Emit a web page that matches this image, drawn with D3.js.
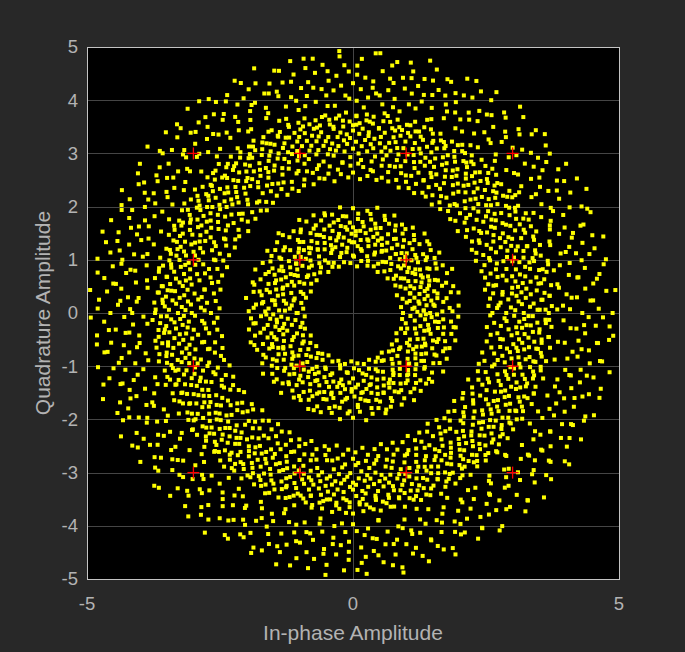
<!DOCTYPE html>
<html>
<head>
<meta charset="utf-8">
<script src="https://cdn.jsdelivr.net/npm/d3@7"></script>
<style>
  html, body { margin: 0; padding: 0; background: #282828; }
  svg { display: block; }
</style>
</head>
<body>
<div id="chart"></div>
<script>
// tick values
const xTicks = [-5, 0, 5];
const yTicks = [-5, -4, -3, -2, -1, 0, 1, 2, 3, 4, 5];

// 16-QAM reference levels (red crosses)
const refLevels = [-3, -1, 1, 3];

// received symbols, read as [angle in degrees, radius] pairs, one list per ring
const innerRing = [
  0,1.45,1,1.21,1,1.68,2,1.33,3,1.82,4,1.12,5,1.54,6,1.39,7,1.71,8,1.26,9,1.49,
  10,1.61,11,1.03,11,1.37,12,1.88,13,1.44,14,1.19,15,1.58,16,1.30,17,1.75,18,1.47,19,1.14,
  20,1.52,21,1.36,22,1.66,22,1.24,23,1.92,24,1.41,25,1.09,26,1.57,27,1.32,28,1.78,29,1.46,
  30,1.20,31,1.63,32,1.38,33,1.50,34,1.85,34,1.16,35,1.43,36,1.69,37,1.28,38,1.55,39,1.35,
  40,1.72,41,1.07,42,1.48,43,1.60,43,1.31,44,1.94,45,1.40,46,1.22,47,1.64,48,1.51,49,1.34,
  50,1.79,51,1.45,52,1.17,53,1.56,54,1.37,55,1.67,56,1.25,57,1.53,58,1.86,59,1.42,
  60,1.11,61,1.59,62,1.33,63,1.74,64,1.47,65,1.27,66,1.62,67,1.39,68,1.81,69,1.50,
  70,1.21,71,1.44,72,1.68,72,1.35,73,1.56,74,1.02,75,1.48,76,1.73,77,1.29,78,1.60,79,1.41,
  80,1.89,81,1.52,82,1.18,83,1.64,84,1.38,85,1.55,86,1.26,87,1.77,88,1.46,89,1.33,
  90,1.61,90,1.08,91,1.49,92,1.70,93,1.36,94,1.57,95,1.23,96,1.83,97,1.43,98,1.65,99,1.30,
  100,1.51,101,1.15,102,1.74,103,1.40,104,1.59,105,1.28,106,1.91,107,1.47,108,1.34,109,1.66,
  110,1.20,111,1.53,112,1.42,113,1.79,114,1.31,115,1.62,116,1.05,117,1.48,118,1.70,119,1.37,
  120,1.56,121,1.24,122,1.85,123,1.45,124,1.13,125,1.63,126,1.39,127,1.72,128,1.50,129,1.27,
  130,1.58,131,1.35,132,1.97,133,1.44,134,1.19,135,1.67,136,1.52,137,1.30,138,1.76,139,1.41,
  140,1.10,141,1.55,142,1.33,143,1.69,144,1.46,145,1.87,146,1.25,147,1.60,148,1.38,149,1.53,
  150,1.16,151,1.73,152,1.43,153,1.29,154,1.64,155,1.49,156,1.80,157,1.34,158,1.06,159,1.57,
  160,1.40,161,1.68,162,1.22,163,1.51,164,1.93,165,1.36,166,1.61,167,1.45,168,1.14,169,1.75,
  170,1.32,171,1.54,172,1.27,173,1.70,174,1.47,175,1.83,176,1.19,177,1.59,178,1.39,179,1.65,
  180,1.04,181,1.50,182,1.73,183,1.35,184,1.56,185,1.23,186,1.88,187,1.44,188,1.62,189,1.31,
  190,1.48,191,1.17,192,1.78,193,1.42,194,1.58,195,1.28,196,1.67,197,1.37,198,1.95,199,1.52,
  200,1.12,201,1.63,202,1.40,203,1.71,204,1.25,205,1.55,206,1.46,207,1.84,208,1.33,209,1.60,
  210,1.07,211,1.49,212,1.69,213,1.36,214,1.57,215,1.21,216,1.76,217,1.43,218,1.30,219,1.64,
  220,1.51,221,1.90,222,1.18,223,1.45,224,1.66,225,1.34,226,1.59,227,1.26,228,1.80,229,1.41,
  230,1.54,231,1.09,232,1.72,233,1.38,234,1.61,235,1.47,236,1.22,237,1.86,238,1.35,239,1.56,
  240,1.29,241,1.67,242,1.43,243,1.15,244,1.74,245,1.50,246,1.32,247,1.62,248,1.97,249,1.39,
  250,1.58,251,1.20,252,1.46,253,1.70,254,1.34,255,1.55,256,1.01,257,1.64,258,1.42,259,1.79,
  260,1.27,261,1.52,262,1.37,263,1.68,264,1.44,265,1.13,266,1.60,267,1.31,268,1.85,269,1.48,
  270,1.23,271,1.57,272,1.40,273,1.73,274,1.35,275,1.62,276,1.08,277,1.50,278,1.66,279,1.29,
  280,1.45,281,1.82,282,1.19,283,1.54,284,1.38,285,1.69,286,1.26,287,1.59,288,1.47,289,1.92,
  290,1.33,291,1.61,292,1.14,293,1.48,294,1.75,295,1.36,296,1.56,297,1.24,298,1.67,299,1.43,
  300,1.52,301,1.05,302,1.71,303,1.39,304,1.60,305,1.30,306,1.84,307,1.46,308,1.21,309,1.63,
  310,1.37,311,1.55,312,1.77,313,1.28,314,1.49,315,1.65,316,1.16,317,1.42,318,1.58,319,1.89,
  320,1.34,321,1.53,322,1.10,323,1.69,324,1.45,325,1.26,326,1.61,327,1.40,328,1.78,329,1.50,
  330,1.22,331,1.57,332,1.35,333,1.72,334,1.44,335,1.18,336,1.63,337,1.47,338,1.31,339,1.86,
  340,1.41,341,1.59,342,1.25,343,1.68,344,1.06,345,1.51,346,1.38,347,1.74,348,1.46,349,1.29,
  350,1.62,351,1.43,352,1.91,353,1.17,354,1.55,355,1.36,356,1.70,357,1.48,358,1.27,359,1.58
];

// inner ring, second pass: the looser points on both edges of the ring
const innerEdges = [
  0,0.94,1,1.87,2,1.33,4,1.99,5,1.16,6,1.52,7,0.91,9,1.78,10,1.25,11,2.02,
  12,1.09,13,1.63,15,1.95,16,0.97,17,1.41,18,1.84,19,1.13,21,1.71,22,0.89,23,1.56,
  24,2.04,25,1.19,27,1.47,28,1.91,29,1.02,30,1.66,31,1.81,33,0.95,34,1.35,35,1.98,
  36,1.11,37,1.74,39,1.88,40,1.00,41,1.58,42,1.93,43,1.23,45,0.92,46,1.80,47,1.44,
  48,2.01,49,1.07,51,1.69,52,1.86,53,0.98,54,1.37,55,1.96,57,1.14,58,1.76,59,0.90,
  60,1.61,61,1.90,63,1.04,64,1.83,65,1.29,66,0.96,67,1.99,69,1.50,70,1.17,71,1.85,
  72,1.92,73,0.93,75,1.65,76,1.10,77,2.03,78,1.39,79,1.79,81,0.99,82,1.94,83,1.21,
  84,1.72,85,0.88,87,1.87,88,1.54,89,1.06,90,1.97,91,1.33,93,0.94,94,1.82,95,1.62,
  96,1.15,97,2.00,99,1.77,100,0.97,101,1.45,102,1.89,103,1.08,105,1.70,106,1.95,107,0.91,
  108,1.26,109,1.84,111,1.01,112,1.98,113,1.59,114,0.95,115,1.75,117,1.93,118,1.12,119,1.36,
  120,2.02,121,0.90,123,1.81,124,1.48,125,1.05,126,1.90,127,1.67,129,0.98,130,1.86,131,1.18,
  132,1.53,133,2.05,135,1.03,136,1.78,137,1.95,138,0.92,139,1.42,141,1.88,142,1.10,143,1.73,
  144,1.99,145,0.96,147,1.31,148,1.83,149,1.07,150,1.60,151,1.94,153,0.89,154,1.76,155,1.22,
  156,2.01,157,1.57,159,1.00,160,1.85,161,1.40,162,0.93,163,1.97,165,1.68,166,1.13,167,1.80,
  168,1.91,169,0.99,171,1.49,172,2.03,173,1.16,174,1.72,175,0.94,177,1.87,178,1.28,179,1.96,
  180,1.06,181,1.63,183,1.92,184,0.91,185,1.44,186,1.84,187,1.09,189,1.98,190,1.70,191,0.97,
  192,1.35,193,1.89,195,1.02,196,2.00,197,1.55,198,0.95,199,1.79,201,1.93,202,1.20,203,1.64,
  204,1.03,205,1.86,207,1.47,208,0.90,209,1.95,210,1.74,211,1.11,213,1.82,214,2.04,215,0.98,
  216,1.38,217,1.90,219,1.08,220,1.69,221,1.97,222,0.93,223,1.52,225,1.87,226,1.14,227,1.78,
  228,2.02,229,1.00,231,1.61,232,1.85,233,0.96,234,1.30,235,1.94,237,1.05,238,1.75,239,1.91,
  240,0.92,241,1.46,243,1.83,244,1.17,245,1.99,246,1.66,247,0.99,249,1.88,250,1.24,251,1.71,
  252,1.96,253,0.94,255,1.58,256,1.84,257,1.07,258,1.92,259,1.34,261,0.97,262,1.80,263,2.01,
  264,1.12,265,1.63,267,1.89,268,0.91,269,1.43,270,1.97,271,1.04,273,1.77,274,1.86,275,0.95,
  276,1.51,277,2.03,279,1.15,280,1.68,281,1.93,282,0.98,283,1.39,285,1.85,286,1.09,287,1.74,
  288,1.98,289,0.93,291,1.60,292,1.90,293,1.19,294,1.81,295,1.01,297,1.48,298,1.95,299,0.96,
  300,1.72,301,1.87,303,1.06,304,1.36,305,2.00,306,0.92,307,1.65,309,1.83,310,1.13,311,1.94,
  312,1.55,313,0.99,315,1.79,316,1.91,317,1.03,318,1.42,319,1.97,321,0.94,322,1.70,323,1.86,
  324,1.10,325,1.57,327,2.02,328,0.97,329,1.32,330,1.88,331,1.16,333,1.76,334,1.96,335,0.90,
  336,1.49,337,1.84,339,1.05,340,1.93,341,1.67,342,0.95,343,1.81,345,1.99,346,1.20,347,1.45,
  348,1.89,349,1.01,351,1.73,352,1.95,353,0.93,354,1.62,355,1.85,357,1.08,358,1.98,359,1.37
];

const middleRing = [
  0,3.21,0,2.88,1,3.47,1,3.05,1,3.62,2,3.33,2,2.97,3,3.18,3,3.40,3,2.74,
  4,3.12,4,3.55,5,3.26,5,2.93,5,3.71,6,3.09,6,3.36,7,3.01,7,3.19,7,3.48,
  8,2.84,8,3.29,9,3.58,9,3.14,9,3.03,10,3.39,10,3.24,11,2.69,11,3.51,11,3.11,
  12,3.31,12,2.95,13,3.66,13,3.22,13,3.07,14,3.43,14,2.90,15,3.35,15,3.17,15,3.79,
  16,3.45,16,3.00,17,3.27,17,2.81,17,3.53,18,3.15,18,3.37,19,2.99,19,3.62,19,3.20,
  20,3.08,20,3.41,21,2.76,21,3.28,21,3.50,22,3.13,22,3.34,23,2.92,23,3.68,23,3.23,
  24,3.04,24,3.46,25,3.30,25,2.86,25,3.16,26,3.57,26,3.25,27,2.96,27,3.42,27,3.10,
  28,3.74,28,3.19,29,3.02,29,3.38,29,2.72,30,3.32,30,3.54,31,3.11,31,2.94,31,3.28,
  32,3.47,32,3.06,33,3.63,33,3.20,33,2.83,34,3.36,34,3.14,35,3.51,35,2.99,35,3.25,
  36,3.70,36,3.09,37,3.40,37,3.18,37,2.91,38,3.29,38,3.58,39,3.03,39,3.44,39,3.22,
  40,2.78,40,3.33,41,3.12,41,3.49,41,3.00,42,3.26,42,3.65,43,3.15,43,2.89,43,3.39,
  44,3.52,44,3.07,45,3.31,45,3.21,45,2.97,46,3.45,46,3.77,47,3.10,47,3.35,47,2.80,
  48,3.24,48,3.56,49,3.02,49,3.41,49,3.17,50,2.93,50,3.30,51,3.60,51,3.13,51,3.37,
  52,3.05,52,3.48,53,3.23,53,2.75,53,3.54,54,3.16,54,3.34,55,2.98,55,3.67,55,3.27,
  56,3.09,56,3.43,57,3.20,57,2.87,57,3.50,58,3.32,58,3.72,59,3.04,59,3.25,59,3.46,
  60,2.95,60,3.38,61,3.14,61,3.59,61,3.01,62,3.29,62,2.82,63,3.47,63,3.19,63,3.64,
  64,3.08,64,3.36,65,2.91,65,3.53,65,3.22,66,3.42,66,3.11,67,3.75,67,3.26,67,2.96,
  68,3.33,68,3.06,69,3.55,69,3.18,69,2.77,70,3.40,70,3.28,71,3.02,71,3.61,71,3.15,
  72,3.49,72,2.90,73,3.24,73,3.37,73,3.69,74,3.10,74,2.99,75,3.45,75,3.21,75,3.56,
  76,3.31,76,2.85,77,3.13,77,3.52,77,3.39,78,3.03,78,3.27,79,3.66,79,3.17,79,2.94,
  80,3.44,80,3.08,81,3.35,81,3.80,81,3.23,82,2.97,82,3.50,83,3.12,83,3.30,83,2.71,
  84,3.58,84,3.19,85,3.41,85,3.05,85,3.34,86,3.63,86,3.26,87,2.88,87,3.47,87,3.14,
  88,3.37,88,3.00,89,3.54,89,3.22,89,3.71,90,3.09,90,3.43,91,3.29,91,2.93,91,3.60,
  92,3.18,92,3.36,93,3.04,93,3.51,93,3.25,94,2.83,94,3.40,95,3.15,95,3.67,95,3.32,
  96,3.07,96,3.48,97,3.21,97,2.98,97,3.57,98,3.34,98,3.11,99,3.73,99,3.27,99,3.02,
  100,3.45,100,3.19,101,2.90,101,3.38,101,3.55,102,3.13,102,3.30,103,3.64,103,3.06,103,3.42,
  104,3.24,104,2.79,105,3.50,105,3.16,105,3.35,106,3.01,106,3.59,107,3.28,107,3.10,107,3.46,
  108,2.95,108,3.39,109,3.22,109,3.70,109,3.12,110,3.33,110,3.05,111,3.53,111,3.20,111,2.86,
  112,3.44,112,3.26,113,3.62,113,3.08,113,3.37,114,3.17,114,2.97,115,3.49,115,3.31,115,3.76,
  116,3.03,116,3.23,117,3.41,117,2.92,117,3.58,118,3.14,118,3.35,119,3.06,119,3.52,119,3.27,
  120,2.81,120,3.43,121,3.18,121,3.65,121,3.09,122,3.32,122,3.00,123,3.48,123,3.21,123,3.56,
  124,3.11,124,2.89,125,3.38,125,3.25,125,3.69,126,3.04,126,3.45,127,3.15,127,3.33,127,2.96,
  128,3.57,128,3.22,129,3.07,129,3.40,129,3.19,130,2.74,130,3.51,131,3.29,131,3.12,131,3.63,
  132,3.36,132,3.02,133,3.47,133,3.24,133,2.91,134,3.16,134,3.54,135,3.34,135,3.08,135,3.72,
  136,3.26,136,2.99,137,3.42,137,3.13,137,3.30,138,3.60,138,3.05,139,3.20,139,2.84,139,3.49,
  140,3.37,140,3.10,141,3.55,141,3.23,141,2.94,142,3.44,142,3.17,143,3.66,143,3.01,143,3.31,
  144,3.14,144,3.39,145,2.87,145,3.52,145,3.27,146,3.06,146,3.46,147,3.19,147,3.78,147,3.35,
  148,2.98,148,3.24,149,3.58,149,3.11,149,3.41,150,3.29,150,2.80,151,3.50,151,3.15,151,3.33,
  152,3.03,152,3.62,153,3.22,153,3.44,153,2.93,154,3.36,154,3.09,155,3.53,155,3.18,155,3.70,
  156,3.25,156,2.90,157,3.43,157,3.12,157,3.30,158,3.57,158,3.04,159,3.21,159,3.47,159,2.77,
  160,3.38,160,3.16,161,3.64,161,3.07,161,3.32,162,2.96,162,3.49,163,3.23,163,3.41,163,3.10,
  164,3.59,164,3.28,165,2.88,165,3.35,165,3.17,166,3.52,166,3.02,167,3.45,167,3.26,167,3.74,
  168,3.13,168,2.95,169,3.39,169,3.20,169,3.56,170,3.08,170,3.31,171,2.83,171,3.48,171,3.24,
  172,3.61,172,3.14,173,3.37,173,3.00,173,3.44,174,3.19,174,3.67,175,3.27,175,2.92,175,3.53,
  176,3.11,176,3.40,177,3.05,177,3.33,177,3.58,178,3.22,178,2.86,179,3.46,179,3.15,179,3.71,
  180,3.29,180,3.03,181,3.50,181,3.18,181,2.97,182,3.42,182,3.25,183,3.63,183,3.09,183,3.36,
  184,2.80,184,3.21,185,3.55,185,3.12,185,3.34,186,3.01,186,3.47,187,3.28,187,3.68,187,3.16,
  188,2.94,188,3.39,189,3.23,189,3.52,189,3.06,190,3.32,190,3.75,191,3.13,191,2.89,191,3.44,
  192,3.20,192,3.58,193,3.04,193,3.30,193,3.49,194,3.17,194,2.78,195,3.41,195,3.26,195,3.62,
  196,3.10,196,3.35,197,2.99,197,3.54,197,3.22,198,3.45,198,3.07,199,3.31,199,3.69,199,3.14,
  200,2.91,200,3.38,201,3.19,201,3.51,201,3.02,202,3.27,202,3.60,203,3.11,203,2.85,203,3.43,
  204,3.33,204,3.15,205,3.56,205,3.05,205,3.24,206,3.47,206,2.96,207,3.36,207,3.18,207,3.66,
  208,3.08,208,3.29,209,3.52,209,3.21,209,2.82,210,3.40,210,3.12,211,3.63,211,3.26,211,3.00,
  212,3.34,212,3.16,213,3.48,213,2.93,213,3.23,214,3.57,214,3.09,215,3.30,215,3.44,215,3.03,
  216,3.19,216,3.72,217,2.88,217,3.37,217,3.14,218,3.50,218,3.25,219,3.06,219,3.42,219,3.20,
  220,2.98,220,3.61,221,3.32,221,3.11,221,3.46,222,3.23,222,2.79,223,3.55,223,3.17,223,3.35,
  224,3.04,224,3.43,225,3.28,225,3.67,225,3.13,226,2.92,226,3.39,227,3.21,227,3.53,227,3.07,
  228,3.31,228,3.16,229,3.48,229,2.87,229,3.26,230,3.60,230,3.10,231,3.36,231,3.01,231,3.44,
  232,3.18,232,3.70,233,3.25,233,2.95,233,3.51,234,3.12,234,3.33,235,3.05,235,3.58,235,3.22,
  236,3.40,236,2.84,237,3.29,237,3.15,237,3.47,238,3.64,238,3.08,239,3.20,239,3.37,239,2.99,
  240,3.54,240,3.26,241,3.11,241,3.45,241,3.03,242,3.32,242,2.90,243,3.62,243,3.19,243,3.41,
  244,3.14,244,3.50,245,2.97,245,3.28,245,3.73,246,3.23,246,3.06,247,3.44,247,3.17,247,2.83,
  248,3.35,248,3.57,249,3.09,249,3.30,249,3.48,250,3.21,250,2.94,251,3.66,251,3.13,251,3.38,
  252,3.02,252,3.46,253,3.27,253,3.55,253,3.16,254,2.88,254,3.34,255,3.20,255,3.61,255,3.07,
  256,3.42,256,3.24,257,2.99,257,3.52,257,3.31,258,3.12,258,3.69,259,3.36,259,3.05,259,3.22,
  260,3.47,260,2.81,261,3.29,261,3.15,261,3.58,262,3.39,262,3.10,263,3.53,263,3.25,263,2.96,
  264,3.18,264,3.43,265,3.63,265,3.04,265,3.33,266,3.21,266,2.91,267,3.49,267,3.14,267,3.37,
  268,3.76,268,3.08,269,3.27,269,3.56,269,3.01,270,3.32,270,3.19,271,2.86,271,3.44,271,3.23,
  272,3.60,272,3.11,273,3.35,273,3.50,273,2.98,274,3.16,274,3.40,275,3.06,275,3.67,275,3.28,
  276,3.13,276,2.93,277,3.46,277,3.24,277,3.54,278,3.03,278,3.38,279,3.20,279,2.80,279,3.59,
  280,3.31,280,3.09,281,3.48,281,3.17,281,3.71,282,2.95,282,3.26,283,3.42,283,3.12,283,3.34,
  284,3.57,284,3.00,285,3.22,285,3.45,285,2.89,286,3.36,286,3.15,287,3.64,287,3.07,287,3.29,
  288,3.51,288,3.18,289,2.97,289,3.40,289,3.25,290,3.10,290,3.55,291,3.33,291,2.84,291,3.47,
  292,3.21,292,3.68,293,3.04,293,3.37,293,3.14,294,3.43,294,2.92,295,3.27,295,3.58,295,3.19,
  296,3.08,296,3.35,297,3.50,297,3.02,297,3.24,298,2.87,298,3.41,299,3.16,299,3.62,299,3.30,
  300,3.11,300,3.46,301,2.99,301,3.23,301,3.53,302,3.34,302,3.06,303,3.70,303,3.18,303,3.39,
  304,3.01,304,3.28,305,3.49,305,2.90,305,3.21,306,3.57,306,3.13,307,3.36,307,3.05,307,3.44,
  308,3.26,308,2.82,309,3.61,309,3.17,309,3.32,310,3.09,310,3.48,311,3.24,311,2.96,311,3.54,
  312,3.37,312,3.12,313,3.65,313,3.03,313,3.29,314,3.20,314,3.42,315,2.93,315,3.52,315,3.15,
  316,3.31,316,3.74,317,3.08,317,3.38,317,2.85,318,3.25,318,3.55,319,3.14,319,3.45,319,3.00,
  320,3.33,320,3.19,321,3.62,321,2.94,321,3.40,322,3.10,322,3.27,323,3.50,323,3.04,323,3.36,
  324,3.22,324,2.79,325,3.59,325,3.16,325,3.43,326,3.07,326,3.30,327,3.67,327,3.23,327,2.98,
  328,3.47,328,3.12,329,3.35,329,3.18,329,3.56,330,2.90,330,3.41,331,3.26,331,3.05,331,3.63,
  332,3.32,332,3.15,333,3.49,333,2.87,333,3.21,334,3.58,334,3.09,335,3.38,335,3.28,335,3.02,
  336,3.44,336,3.72,337,3.17,337,2.95,337,3.34,338,3.53,338,3.11,339,3.24,339,3.46,339,3.06,
  340,2.83,340,3.39,341,3.20,341,3.60,341,3.13,342,3.31,342,3.00,343,3.48,343,3.27,343,3.69,
  344,3.10,344,2.92,345,3.36,345,3.22,345,3.55,346,3.04,346,3.42,347,3.18,347,3.64,347,2.97,
  348,3.29,348,3.14,349,3.51,349,3.07,349,3.37,350,3.23,350,2.86,351,3.45,351,3.16,351,3.59,
  352,3.01,352,3.33,353,3.25,353,3.70,353,3.11,354,2.94,354,3.40,355,3.19,355,3.52,355,3.08,
  356,3.35,356,3.27,357,2.89,357,3.47,357,3.13,358,3.62,358,3.22,359,3.03,359,3.38,359,3.30
];

// middle ring, second pass: the looser points on both edges of the ring
const middleEdges = [
  0,2.62,0,3.68,1,3.51,2,2.71,2,3.74,3,2.55,4,3.57,4,2.78,5,3.71,6,2.59,6,3.62,7,2.83,
  8,3.76,8,2.66,9,3.53,10,2.52,10,3.65,11,2.74,12,3.72,12,2.60,13,3.59,14,2.80,14,3.78,15,2.57,
  16,3.54,16,2.69,17,3.69,18,2.54,18,3.61,19,2.86,20,3.74,20,2.63,21,3.51,22,2.76,22,3.67,23,2.51,
  24,3.77,24,2.68,25,3.57,26,2.58,26,3.72,27,2.82,28,3.55,28,2.53,29,3.66,30,2.73,30,3.75,31,2.61,
  32,3.60,32,2.84,33,3.70,34,2.56,34,3.54,35,2.77,36,3.77,36,2.65,37,3.63,38,2.50,38,3.73,39,2.70,
  40,3.52,40,2.87,41,3.69,42,2.59,42,3.58,43,2.75,44,3.74,44,2.54,45,3.56,46,2.81,46,3.66,47,2.62,
  48,3.72,48,2.72,49,3.50,50,2.55,50,3.76,51,2.79,52,3.61,52,2.64,53,3.71,54,2.52,54,3.53,55,2.85,
  56,3.67,56,2.67,57,3.77,58,2.58,58,3.59,59,2.76,60,3.72,60,2.61,61,3.54,62,2.83,62,3.64,63,2.53,
  64,3.75,64,2.70,65,3.57,66,2.57,66,3.69,67,2.80,68,3.51,68,2.66,69,3.74,70,2.51,70,3.63,71,2.78,
  72,3.78,72,2.63,73,3.54,74,2.86,74,3.68,75,2.56,76,3.60,76,2.73,77,3.73,78,2.60,78,3.55,79,2.82,
  80,3.76,80,2.54,81,3.65,82,2.69,82,3.51,83,2.87,84,3.71,84,2.59,85,3.61,86,2.75,86,3.74,87,2.52,
  88,3.57,88,2.81,89,3.70,90,2.64,90,3.53,91,2.77,92,3.77,92,2.55,93,3.62,94,2.84,94,3.72,95,2.62,
  96,3.52,96,2.71,97,3.66,98,2.50,98,3.75,99,2.79,100,3.58,100,2.66,101,3.69,102,2.58,102,3.54,103,2.85,
  104,3.77,104,2.61,105,3.63,106,2.74,106,3.72,107,2.53,108,3.56,108,2.80,109,3.74,110,2.67,110,3.51,111,2.57,
  112,3.67,112,2.83,113,3.60,114,2.51,114,3.76,115,2.72,116,3.54,116,2.60,117,3.71,118,2.78,118,3.63,119,2.54,
  120,3.74,120,2.69,121,3.57,122,2.86,122,3.69,123,2.63,124,3.51,124,2.76,125,3.78,126,2.56,126,3.61,127,2.82,
  128,3.73,128,2.65,129,3.55,130,2.52,130,3.66,131,2.75,132,3.77,132,2.59,133,3.53,134,2.84,134,3.72,135,2.68,
  136,3.61,136,2.55,137,3.74,138,2.79,138,3.57,139,2.62,140,3.69,140,2.73,141,3.50,142,2.50,142,3.77,143,2.81,
  144,3.59,144,2.66,145,3.72,146,2.58,146,3.54,147,2.85,148,3.66,148,2.61,149,3.75,150,2.77,150,3.52,151,2.54,
  152,3.70,152,2.70,153,3.62,154,2.87,154,3.74,155,2.57,156,3.56,156,2.74,157,3.76,158,2.63,158,3.64,159,2.80,
  160,3.51,160,2.52,161,3.71,162,2.68,162,3.60,163,2.83,164,3.77,164,2.56,165,3.54,166,2.76,166,3.68,167,2.60,
  168,3.73,168,2.71,169,3.57,170,2.53,170,3.78,171,2.82,172,3.63,172,2.64,173,3.51,174,2.86,174,3.69,175,2.59,
  176,3.59,176,2.75,177,3.74,178,2.51,178,3.54,179,2.79,180,3.72,180,2.67,181,3.61,182,2.55,182,3.77,183,2.84,
  184,3.52,184,2.62,185,3.67,186,2.78,186,3.57,187,2.57,188,3.75,188,2.73,189,3.63,190,2.50,190,3.53,191,2.85,
  192,3.72,192,2.65,193,3.60,194,2.81,194,3.76,195,2.54,196,3.55,196,2.70,197,3.70,198,2.61,198,3.51,199,2.86,
  200,3.66,200,2.58,201,3.77,202,2.74,202,3.58,203,2.52,204,3.71,204,2.83,205,3.54,206,2.66,206,3.74,207,2.77,
  208,3.62,208,2.55,209,3.50,210,2.80,210,3.78,211,2.63,212,3.57,212,2.72,213,3.69,214,2.59,214,3.61,215,2.87,
  216,3.74,216,2.53,217,3.54,218,2.76,218,3.72,219,2.68,220,3.52,220,2.84,221,3.66,222,2.56,222,3.76,223,2.71,
  224,3.57,224,2.61,225,3.69,226,2.82,226,3.63,227,2.50,228,3.73,228,2.75,229,3.53,230,2.64,230,3.77,231,2.79,
  232,3.60,232,2.57,233,3.71,234,2.85,234,3.51,235,2.67,236,3.75,236,2.52,237,3.64,238,2.73,238,3.55,239,2.60,
  240,3.72,240,2.83,241,3.59,242,2.54,242,3.68,243,2.78,244,3.77,244,2.66,245,3.54,246,2.86,246,3.63,247,2.58,
  248,3.74,248,2.70,249,3.51,250,2.62,250,3.70,251,2.81,252,3.61,252,2.53,253,3.78,254,2.77,254,3.57,255,2.65,
  256,3.67,256,2.84,257,3.53,258,2.56,258,3.74,259,2.72,260,3.62,260,2.61,261,3.72,262,2.80,262,3.54,263,2.51,
  264,3.76,264,2.75,265,3.58,266,2.67,266,3.69,267,2.85,268,3.52,268,2.57,269,3.65,270,2.74,270,3.77,271,2.62,
  272,3.56,272,2.82,273,3.73,274,2.54,274,3.61,275,2.79,276,3.71,276,2.68,277,3.51,278,2.86,278,3.75,279,2.59,
  280,3.63,280,2.73,281,3.54,282,2.52,282,3.72,283,2.83,284,3.59,284,2.64,285,3.77,286,2.77,286,3.52,287,2.55,
  288,3.69,288,2.70,289,3.64,290,2.85,290,3.74,291,2.60,292,3.55,292,2.78,293,3.72,294,2.53,294,3.61,295,2.81,
  296,3.78,296,2.66,297,3.51,298,2.74,298,3.70,299,2.57,300,3.60,300,2.87,301,3.74,302,2.63,302,3.54,303,2.76,
  304,3.68,304,2.51,305,3.57,306,2.80,306,3.76,307,2.69,308,3.53,308,2.55,309,3.71,310,2.84,310,3.63,311,2.62,
  312,3.73,312,2.72,313,3.50,314,2.58,314,3.66,315,2.86,316,3.77,316,2.65,317,3.57,318,2.79,318,3.69,319,2.52,
  320,3.61,320,2.75,321,3.74,322,2.61,322,3.54,323,2.83,324,3.72,324,2.56,325,3.62,326,2.71,326,3.52,327,2.85,
  328,3.75,328,2.64,329,3.58,330,2.50,330,3.69,331,2.78,332,3.55,332,2.67,333,3.77,334,2.82,334,3.65,335,2.59,
  336,3.72,336,2.73,337,3.53,338,2.55,338,3.70,339,2.80,340,3.60,340,2.63,341,3.78,342,2.86,342,3.56,343,2.54,
  344,3.67,344,2.76,345,3.51,346,2.68,346,3.74,347,2.84,348,3.61,348,2.57,349,3.54,350,2.81,350,3.76,351,2.62,
  352,3.58,352,2.74,353,3.71,354,2.53,354,3.52,355,2.79,356,3.74,356,2.66,357,3.63,358,2.85,358,3.69,359,2.58
];

const outerRing = [
  0,4.31,1,4.08,1,4.62,2,3.95,3,4.47,4,4.22,5,4.78,5,4.03,6,4.39,7,4.55,
  8,3.88,9,4.27,9,4.69,10,4.12,11,4.44,12,4.86,13,4.18,13,3.99,14,4.58,15,4.34,
  16,4.06,17,4.51,17,4.25,18,4.73,19,3.92,20,4.40,21,4.15,21,4.64,22,4.29,23,4.02,
  24,4.82,25,4.36,25,4.10,26,4.53,27,3.97,28,4.21,29,4.67,29,4.43,30,4.09,31,4.91,
  32,4.33,33,4.00,33,4.57,34,4.24,35,4.71,36,3.86,37,4.46,37,4.19,38,4.61,39,4.37,
  40,4.05,41,4.80,41,4.28,42,4.50,43,3.94,44,4.42,45,4.14,45,4.75,46,4.32,47,4.59,
  48,4.01,49,4.26,49,4.88,50,4.45,51,4.11,52,4.66,53,3.90,53,4.38,54,4.20,55,4.54,
  56,4.07,57,4.77,57,4.30,58,4.48,59,3.98,60,4.35,61,4.63,61,4.16,62,4.94,63,4.23,
  64,4.41,65,4.04,65,4.56,66,4.29,67,4.72,68,3.93,69,4.49,69,4.13,70,4.36,71,4.84,
  72,4.18,73,4.60,73,4.02,74,4.44,75,4.27,76,4.68,77,3.89,77,4.33,78,4.52,79,4.10,
  80,4.79,81,4.24,81,4.46,82,3.96,83,4.58,84,4.15,85,4.37,85,4.90,86,4.06,87,4.43,
  88,4.21,89,4.65,89,3.99,90,4.32,91,4.54,92,4.09,93,4.83,93,4.28,94,4.47,95,3.91,
  96,4.39,97,4.12,97,4.70,98,4.25,99,4.57,100,4.03,101,4.42,101,4.87,102,4.17,103,4.34,
  104,4.62,105,3.95,105,4.50,106,4.22,107,4.76,108,4.08,109,4.40,109,4.31,110,4.59,111,3.87,
  112,4.45,113,4.19,113,4.69,114,4.01,115,4.36,116,4.81,117,4.26,117,4.53,118,4.11,119,4.48,
  120,3.94,121,4.64,121,4.30,122,4.05,123,4.73,124,4.38,125,4.14,125,4.56,126,4.92,127,4.20,
  128,4.44,129,3.97,129,4.61,130,4.27,131,4.51,132,4.07,133,4.85,133,4.35,134,4.16,135,4.67,
  136,4.41,137,3.90,137,4.29,138,4.58,139,4.13,140,4.74,141,4.23,141,4.46,142,4.00,143,4.55,
  144,4.32,145,4.89,145,4.10,146,4.43,147,4.18,148,4.63,149,3.96,149,4.37,150,4.52,151,4.25,
  152,4.06,153,4.71,153,4.39,154,4.15,155,4.80,156,4.28,157,3.92,157,4.57,158,4.34,159,4.47,
  160,4.09,161,4.66,161,4.21,162,4.95,163,4.40,164,4.02,165,4.54,165,4.26,166,4.70,167,3.98,
  168,4.45,169,4.17,169,4.60,170,4.33,171,4.86,172,4.12,173,4.49,173,3.89,174,4.38,175,4.64,
  176,4.24,177,4.07,177,4.78,178,4.42,179,4.19,180,4.56,181,3.94,181,4.30,182,4.68,183,4.14,
  184,4.47,185,4.83,185,4.22,186,4.04,187,4.58,188,4.35,189,4.11,189,4.73,190,4.27,191,3.97,
  192,4.50,193,4.20,193,4.62,194,4.41,195,4.08,196,4.88,197,4.31,197,4.53,198,3.91,199,4.44,
  200,4.16,201,4.69,201,4.36,202,4.03,203,4.59,204,4.25,205,4.77,205,4.13,206,4.48,207,3.99,
  208,4.39,209,4.65,209,4.21,210,4.06,211,4.84,212,4.32,213,4.55,213,4.10,214,4.43,215,3.93,
  216,4.61,217,4.28,217,4.18,218,4.72,219,4.37,220,4.01,221,4.50,221,4.23,222,4.91,223,4.46,
  224,4.12,225,4.66,225,3.96,226,4.34,227,4.57,228,4.20,229,4.81,229,4.05,230,4.42,231,4.29,
  232,4.63,233,3.88,233,4.52,234,4.17,235,4.74,236,4.38,237,4.09,237,4.60,238,4.26,239,4.02,
  240,4.49,241,4.85,241,4.14,242,4.40,243,4.67,244,3.95,245,4.31,245,4.56,246,4.22,247,4.79,
  248,4.07,249,4.45,249,4.19,250,4.62,251,3.98,252,4.36,253,4.70,253,4.11,254,4.53,255,4.27,
  256,4.89,257,4.04,257,4.43,258,4.21,259,4.58,260,4.33,261,3.91,261,4.68,262,4.15,263,4.47,
  264,4.76,265,4.24,265,4.02,266,4.55,267,4.37,268,4.12,269,4.64,269,4.30,270,3.97,271,4.83,
  272,4.41,273,4.18,273,4.59,274,4.06,275,4.49,276,4.27,277,4.72,277,3.93,278,4.39,279,4.16,
  280,4.61,281,4.34,281,4.87,282,4.10,283,4.46,284,4.00,285,4.57,285,4.23,286,4.75,287,4.32,
  288,4.08,289,4.50,289,4.19,290,4.66,291,3.95,292,4.44,293,4.28,293,4.80,294,4.13,295,4.54,
  296,4.36,297,3.90,297,4.63,298,4.21,299,4.42,300,4.05,301,4.71,301,4.29,302,4.52,303,4.17,
  304,4.93,305,4.38,305,4.01,306,4.58,307,4.25,308,4.47,309,4.12,309,4.69,310,3.99,311,4.35,
  312,4.60,313,4.22,313,4.82,314,4.09,315,4.44,316,4.31,317,4.67,317,3.94,318,4.53,319,4.18,
  320,4.74,321,4.26,321,4.40,322,4.03,323,4.61,324,4.37,325,4.14,325,4.86,326,4.48,327,4.20,
  328,3.92,329,4.56,329,4.33,330,4.70,331,4.07,332,4.45,333,4.24,333,4.64,334,4.11,335,4.39,
  336,4.78,337,3.97,337,4.51,338,4.28,339,4.16,340,4.59,341,4.34,341,4.90,342,4.04,343,4.46,
  344,4.23,345,4.68,345,4.13,346,4.41,347,3.89,348,4.55,349,4.30,349,4.73,350,4.19,351,4.49,
  352,4.02,353,4.62,353,4.27,354,4.84,355,4.38,356,4.10,357,4.57,357,4.35,358,3.96,359,4.70
];

// outer ring, second pass: scattered points out to the plot edge
const outerEdges = [
  0,4.88,1,3.84,3,4.52,4,4.12,5,4.95,7,3.90,8,4.63,9,4.29,11,4.80,12,3.86,13,4.41,15,4.70,
  16,4.16,17,4.92,19,4.35,20,3.93,21,4.58,23,4.85,24,4.05,25,4.74,27,4.22,28,4.97,29,3.88,31,4.47,
  32,4.68,33,4.10,35,4.89,36,4.33,37,3.96,39,4.76,40,4.54,41,4.01,43,4.93,44,4.27,45,4.86,47,3.91,
  48,4.65,49,4.38,51,4.99,52,4.14,53,4.72,55,3.85,56,4.50,57,4.95,59,4.24,60,4.81,61,3.97,63,4.59,
  64,4.90,65,4.18,67,4.44,68,4.74,69,3.89,71,4.62,72,4.31,73,4.96,75,4.06,76,4.55,77,4.83,79,3.94,
  80,4.39,81,4.71,83,4.12,84,4.91,85,4.25,87,3.87,88,4.78,89,4.48,91,4.03,92,4.66,93,4.93,95,4.20,
  96,4.57,97,3.92,99,4.84,100,4.30,101,4.69,103,3.99,104,4.88,105,4.13,107,4.53,108,4.79,109,3.86,111,4.42,
  112,4.96,113,4.08,115,4.64,116,4.35,117,4.90,119,3.95,120,4.73,121,4.19,123,4.46,124,4.85,125,4.02,127,4.61,
  128,4.27,129,4.94,131,3.90,132,4.56,133,4.75,135,4.15,136,4.89,137,4.37,139,4.06,140,4.67,141,4.97,143,4.23,
  144,3.93,145,4.51,147,4.82,148,4.11,149,4.70,151,4.40,152,4.92,153,3.88,155,4.58,156,4.76,157,4.17,159,4.87,
  160,4.32,161,3.96,163,4.63,164,4.83,165,4.09,167,4.45,168,4.91,169,4.26,171,3.92,172,4.72,173,4.54,175,4.96,
  176,4.04,177,4.38,179,4.80,180,4.15,181,4.93,183,3.87,184,4.60,185,4.29,187,4.85,188,4.05,189,4.67,191,4.43,
  192,4.90,193,3.95,195,4.74,196,4.21,197,4.57,199,4.97,200,3.91,201,4.48,203,4.81,204,4.13,205,4.64,207,4.34,
  208,4.94,209,3.98,211,4.59,212,4.77,213,4.24,215,4.88,216,4.02,217,4.52,219,4.71,220,4.30,221,4.95,223,3.89,
  224,4.44,225,4.86,227,4.16,228,4.62,229,4.39,231,4.92,232,4.07,233,4.75,235,4.27,236,4.98,237,3.94,239,4.55,
  240,4.82,241,4.19,243,4.47,244,4.69,245,4.05,247,4.90,248,4.33,249,4.78,251,3.90,252,4.61,253,4.94,255,4.12,
  256,4.42,257,4.73,259,4.22,260,4.87,261,4.01,263,4.56,264,4.95,265,4.36,267,3.96,268,4.84,269,4.49,271,4.10,
  272,4.70,273,4.91,275,4.25,276,4.58,277,3.92,279,4.80,280,4.41,281,4.97,283,4.15,284,4.66,285,4.30,287,4.88,
  288,3.87,289,4.52,291,4.76,292,4.20,293,4.93,295,4.03,296,4.63,297,4.45,299,4.85,300,4.11,301,4.72,303,3.97,
  304,4.57,305,4.89,307,4.28,308,4.68,309,4.06,311,4.94,312,4.37,313,4.81,315,4.14,316,4.99,317,3.91,319,4.50,
  320,4.86,321,4.23,323,4.65,324,4.40,325,4.96,327,4.08,328,4.74,329,4.32,331,4.90,332,3.94,333,4.60,335,4.79,
  336,4.18,337,4.92,339,4.46,340,4.04,341,4.69,343,4.87,344,4.26,345,4.55,347,4.95,348,4.12,349,4.77,351,4.35,
  352,3.89,353,4.64,355,4.91,356,4.21,357,4.83,359,4.43
];

const width = 685;
const height = 652;
const margin = {top: 47, right: 66, bottom: 73, left: 87};
const textColor = "#b3b3b3";
const font = "'Liberation Sans', Arial, Helvetica, sans-serif";

// [deg, r, deg, r, ...] -> [{x, y}]
function toPoints(ring) {
    const pts = [];
    for (let i = 0; i < ring.length; i += 2) {
        const a = ring[i] * Math.PI / 180;
        pts.push({x: ring[i + 1] * Math.cos(a), y: ring[i + 1] * Math.sin(a)});
    }
    return pts;
}

const symbols = [innerRing, innerEdges, middleRing, middleEdges, outerRing, outerEdges]
    .flatMap(toPoints);
const reference = d3.cross(refLevels, refLevels).map(([x, y]) => ({x, y}));

const x = d3.scaleLinear().domain([-5, 5]).range([margin.left, width - margin.right]);
const y = d3.scaleLinear().domain([-5, 5]).range([height - margin.bottom, margin.top]);

const svg = d3.select("#chart").append("svg")
    .attr("width", width)
    .attr("height", height)
    .style("background", "#282828");

// plot background
svg.append("rect")
    .attr("x", x(-5)).attr("y", y(5))
    .attr("width", x(5) - x(-5)).attr("height", y(-5) - y(5))
    .attr("fill", "#000");

// grid
const grid = svg.append("g").attr("stroke", "#454545").attr("stroke-width", 1);
grid.selectAll("line.h").data(yTicks).join("line")
    .attr("class", "h")
    .attr("x1", x(-5)).attr("x2", x(5))
    .attr("y1", d => Math.round(y(d)) + 0.5).attr("y2", d => Math.round(y(d)) + 0.5);
grid.selectAll("line.v").data(xTicks).join("line")
    .attr("class", "v")
    .attr("y1", y(5)).attr("y2", y(-5))
    .attr("x1", d => Math.round(x(d)) + 0.5).attr("x2", d => Math.round(x(d)) + 0.5);

// received symbols
const ms = 4;
svg.append("clipPath").attr("id", "plot-clip").append("rect")
    .attr("x", x(-5)).attr("y", y(5))
    .attr("width", x(5) - x(-5)).attr("height", y(-5) - y(5));

svg.append("g")
    .attr("clip-path", "url(#plot-clip)")
    .attr("fill", "#ffff00")
    .selectAll("rect")
    .data(symbols)
    .join("rect")
    .attr("x", d => x(d.x) - ms / 2)
    .attr("y", d => y(d.y) - ms / 2)
    .attr("width", ms)
    .attr("height", ms);

// reference constellation
const cross = svg.append("g").attr("stroke", "#ff0000").attr("stroke-width", 1.3)
    .selectAll("g")
    .data(reference)
    .join("g")
    .attr("transform", d => `translate(${x(d.x)},${y(d.y)})`);
cross.append("line").attr("x1", -6).attr("x2", 6).attr("y1", 0).attr("y2", 0);
cross.append("line").attr("y1", -6).attr("y2", 6).attr("x1", 0).attr("x2", 0);

// axes box
svg.append("rect")
    .attr("x", Math.round(x(-5)) + 0.5).attr("y", Math.round(y(5)) + 0.5)
    .attr("width", Math.round(x(5) - x(-5))).attr("height", Math.round(y(-5) - y(5)))
    .attr("fill", "none")
    .attr("stroke", "#c4c4c4")
    .attr("stroke-width", 1);

// tick labels
svg.append("g")
    .attr("fill", textColor)
    .style("font-family", font)
    .style("font-size", "18.5px")
    .attr("text-anchor", "end")
    .selectAll("text")
    .data(yTicks)
    .join("text")
    .attr("x", x(-5) - 9)
    .attr("y", d => y(d))
    .attr("dy", "0.35em")
    .text(d => d);

svg.append("g")
    .attr("fill", textColor)
    .style("font-family", font)
    .style("font-size", "18.5px")
    .attr("text-anchor", "middle")
    .selectAll("text")
    .data(xTicks)
    .join("text")
    .attr("x", d => x(d))
    .attr("y", y(-5) + 31)
    .text(d => d);

// axis titles
svg.append("text")
    .attr("x", (x(-5) + x(5)) / 2)
    .attr("y", 640)
    .attr("text-anchor", "middle")
    .attr("fill", textColor)
    .style("font-family", font)
    .style("font-size", "21px")
    .text("In-phase Amplitude");

svg.append("text")
    .attr("transform", `translate(50,${(y(-5) + y(5)) / 2}) rotate(-90)`)
    .attr("text-anchor", "middle")
    .attr("fill", textColor)
    .style("font-family", font)
    .style("font-size", "21px")
    .text("Quadrature Amplitude");
</script>
</body>
</html>
